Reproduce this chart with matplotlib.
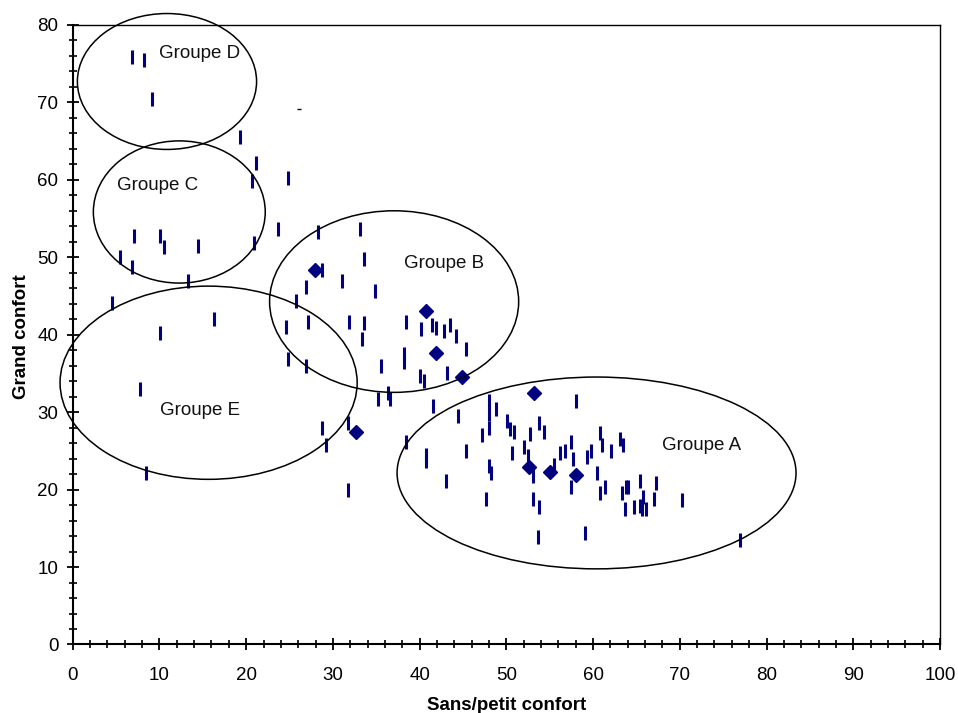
import matplotlib
matplotlib.use("Agg")
import matplotlib.pyplot as plt
from matplotlib.patches import Ellipse
from matplotlib.ticker import MultipleLocator

plt.rcParams["font.family"] = ["Liberation Sans", "DejaVu Sans"]

# Individual observations (sans/petit confort %, grand confort %)
dash_x = [6.8, 8.2, 9.1, 19.3, 21.1, 20.7, 24.8,
          7.07, 10.06, 10.5, 14.4, 20.9, 23.65, 28.3,
          5.45, 6.84, 13.3, 26.9, 4.53, 25.7, 16.3, 27.1, 10.06, 24.6, 24.8, 26.9, 7.75,
          28.7, 29.2, 31.7, 8.45, 31.7,
          33.1, 33.6, 28.7, 31.0, 34.9, 31.9, 33.6, 38.4, 40.2, 41.4, 41.9, 42.8, 43.5,
          44.2, 33.3, 45.3, 38.2, 38.2, 35.6, 40.0, 40.5, 43.2, 35.2, 36.3, 36.6, 41.6,
          44.4, 48.8, 47.2, 38.4,
          58.0, 48.0, 48.0, 48.0, 50.1, 50.4, 50.9, 53.8, 54.3, 52.7, 60.75, 63.1, 63.5,
          61.0, 57.5, 45.3, 40.7, 40.7, 50.6, 52.0, 52.5, 56.2, 56.8, 57.7, 55.5, 59.3,
          59.8, 62.1, 48.0, 48.2, 53.1, 43.0, 60.5, 57.5, 61.4, 60.75, 63.3, 63.8, 64.0,
          65.4, 67.2, 67.0, 65.8, 65.4, 65.6, 66.1, 63.7, 64.7, 47.6, 53.1, 53.8, 53.6,
          59.1, 70.2, 76.9]
dash_y = [75.9, 75.5, 70.4, 65.5, 62.2, 59.8, 60.3,
          52.8, 52.8, 51.3, 51.5, 51.8, 53.6, 53.3,
          50.0, 48.8, 46.9, 46.1, 44.1, 44.3, 42.0, 41.7, 40.2, 40.95, 36.9, 36.0, 33.0,
          27.9, 25.7, 28.6, 22.1, 20.0,
          53.6, 49.8, 48.4, 46.9, 45.6, 41.7, 41.5, 41.7, 40.7, 41.2, 40.9, 40.45, 41.2,
          39.8, 39.4, 38.1, 37.5, 36.5, 36.0, 34.7, 34.05, 35.05, 31.7, 32.5, 31.7, 30.8,
          29.5, 30.4, 27.0, 26.2,
          31.4, 31.4, 29.7, 27.9, 28.8, 27.8, 27.5, 28.6, 27.5, 27.2, 27.3, 26.5, 25.7,
          25.7, 26.2, 25.0, 24.5, 23.7, 24.7, 25.5, 24.4, 24.7, 25.0, 24.0, 23.2, 24.2,
          25.0, 25.0, 23.0, 22.2, 21.7, 21.1, 22.2, 20.3, 20.3, 19.6, 19.6, 20.3, 20.3,
          21.1, 20.9, 18.8, 19.1, 17.9, 17.5, 17.5, 17.5, 17.8, 18.8, 18.8, 17.8, 13.9,
          14.4, 18.7, 13.5]

# Highlighted observations
diamond_x = [27.9, 40.7, 41.9, 44.9, 32.7, 53.2, 52.6, 55.0, 58.0]
diamond_y = [48.4, 43.0, 37.7, 34.5, 27.5, 32.5, 22.9, 22.3, 21.9]

# Stray mark
stray_x = [26.1]
stray_y = [69.2]

# Group regions: label, centre, width, height, label anchor
group_names = ["Groupe A", "Groupe B", "Groupe C", "Groupe D", "Groupe E"]
group_centers = [(60.4, 22.15), (37.06, 44.28), (12.29, 55.85), (10.87, 72.7), (15.67, 33.8)]
group_sizes = [(46.0, 24.77), (28.72, 23.45), (19.82, 18.36), (20.66, 17.55), (34.26, 24.95)]
group_label_pos = [(67.9, 25.7), (38.2, 49.25), (5.07, 59.3), (10.0, 76.3), (10.06, 30.2)]

fig = plt.figure(figsize=(9.58, 7.13), dpi=100)
ax = fig.add_axes([0.0759, 0.0961, 0.9053, 0.8689])

navy = "#000080"
ax.plot(dash_x, dash_y, linestyle="none", marker="|", markersize=9.4,
        markeredgewidth=2.2, color=navy)
ax.plot(diamond_x, diamond_y, linestyle="none", marker="D", markersize=7.5,
        color=navy)
ax.plot(stray_x, stray_y, linestyle="none", marker="_", markersize=2.5,
        markeredgewidth=1.0, color="black")

for name, c, (w, h), (tx, ty) in zip(group_names, group_centers, group_sizes, group_label_pos):
    ax.add_patch(Ellipse(c, w, h, fill=False, edgecolor="black", linewidth=1.1,
                         clip_on=False, zorder=3))
    ax.text(tx, ty, name, fontsize=13.5, ha="left", va="center", color="#111111")

ax.set_xlim(0, 100)
ax.set_ylim(0, 80)
ax.xaxis.set_major_locator(MultipleLocator(10))
ax.xaxis.set_minor_locator(MultipleLocator(2))
ax.yaxis.set_major_locator(MultipleLocator(10))
ax.yaxis.set_minor_locator(MultipleLocator(2))
ax.tick_params(which="major", direction="inout", length=8.6, width=1.3,
               labelsize=13.5, pad=6)
ax.tick_params(axis="x", which="major", pad=12)
ax.tick_params(which="minor", direction="inout", length=5.8, width=1.2)
ax.tick_params(top=False, right=False, which="both")

for side in ("left", "bottom"):
    ax.spines[side].set_linewidth(1.5)
for side in ("top", "right"):
    ax.spines[side].set_linewidth(1.0)

ax.set_xlabel("Sans/petit confort", fontsize=13.5, fontweight="bold")
ax.set_ylabel("Grand confort", fontsize=13.5, fontweight="bold")
ax.xaxis.label.set_verticalalignment("center")
ax.yaxis.label.set_verticalalignment("center")
ax.xaxis.set_label_coords(0.5, -0.098)
ax.yaxis.set_label_coords(-0.0595, 0.497)

fig.savefig("out.png", dpi=100)
